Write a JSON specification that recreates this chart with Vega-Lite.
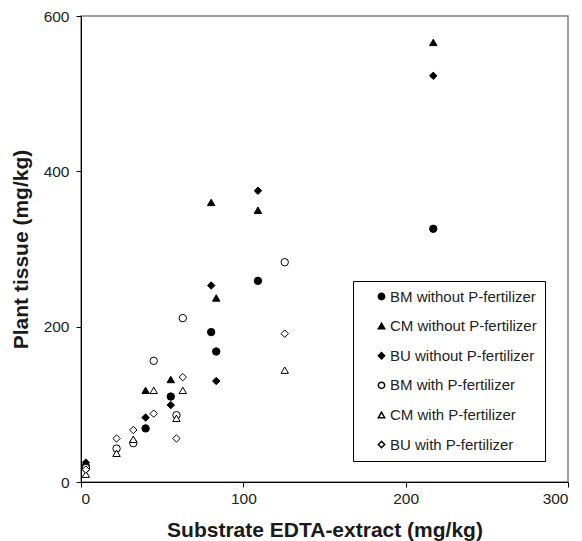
{
  "$schema": "https://vega.github.io/schema/vega-lite/v6.json",
  "width": 487,
  "height": 466,
  "autosize": {"type": "none"},
  "padding": {"left": 81, "top": 16, "right": 14, "bottom": 59},
  "background": "white",
  "config": {
    "font": "Liberation Sans",
    "view": {"stroke": "#808080", "strokeWidth": 1.5},
    "axis": {
      "grid": false,
      "domainColor": "black",
      "tickColor": "black",
      "tickSize": 5,
      "labelFontSize": 15.5,
      "labelColor": "#222",
      "titleFontSize": 21,
      "titleFontWeight": "bold",
      "titleColor": "#1a1a1a"
    }
  },
  "data": {
    "values": [
      {"group": "BM without P-fertilizer", "x": 3, "y": 20},
      {"group": "BM without P-fertilizer", "x": 39.8, "y": 69},
      {"group": "BM without P-fertilizer", "x": 55.3, "y": 110},
      {"group": "BM without P-fertilizer", "x": 80.2, "y": 193},
      {"group": "BM without P-fertilizer", "x": 83.3, "y": 168},
      {"group": "BM without P-fertilizer", "x": 109, "y": 259},
      {"group": "BM without P-fertilizer", "x": 217, "y": 326},
      {"group": "CM without P-fertilizer", "x": 3, "y": 22},
      {"group": "CM without P-fertilizer", "x": 39.8, "y": 118},
      {"group": "CM without P-fertilizer", "x": 55.3, "y": 132},
      {"group": "CM without P-fertilizer", "x": 80.2, "y": 360},
      {"group": "CM without P-fertilizer", "x": 83.3, "y": 237},
      {"group": "CM without P-fertilizer", "x": 109, "y": 350},
      {"group": "CM without P-fertilizer", "x": 217, "y": 566},
      {"group": "BU without P-fertilizer", "x": 3, "y": 25},
      {"group": "BU without P-fertilizer", "x": 39.8, "y": 83},
      {"group": "BU without P-fertilizer", "x": 55.3, "y": 99},
      {"group": "BU without P-fertilizer", "x": 80.2, "y": 253},
      {"group": "BU without P-fertilizer", "x": 83.3, "y": 130},
      {"group": "BU without P-fertilizer", "x": 109, "y": 375},
      {"group": "BU without P-fertilizer", "x": 217, "y": 523},
      {"group": "BM with P-fertilizer", "x": 3, "y": 18},
      {"group": "BM with P-fertilizer", "x": 21.9, "y": 43},
      {"group": "BM with P-fertilizer", "x": 32.2, "y": 50},
      {"group": "BM with P-fertilizer", "x": 44.8, "y": 156},
      {"group": "BM with P-fertilizer", "x": 58.8, "y": 86},
      {"group": "BM with P-fertilizer", "x": 62.7, "y": 211},
      {"group": "BM with P-fertilizer", "x": 125.5, "y": 283},
      {"group": "CM with P-fertilizer", "x": 3, "y": 10},
      {"group": "CM with P-fertilizer", "x": 21.9, "y": 37},
      {"group": "CM with P-fertilizer", "x": 32.2, "y": 55},
      {"group": "CM with P-fertilizer", "x": 44.8, "y": 118},
      {"group": "CM with P-fertilizer", "x": 58.8, "y": 82},
      {"group": "CM with P-fertilizer", "x": 62.7, "y": 118},
      {"group": "CM with P-fertilizer", "x": 125.5, "y": 144},
      {"group": "BU with P-fertilizer", "x": 3, "y": 16},
      {"group": "BU with P-fertilizer", "x": 21.9, "y": 56},
      {"group": "BU with P-fertilizer", "x": 32.2, "y": 67},
      {"group": "BU with P-fertilizer", "x": 44.8, "y": 88},
      {"group": "BU with P-fertilizer", "x": 58.8, "y": 56},
      {"group": "BU with P-fertilizer", "x": 62.7, "y": 135},
      {"group": "BU with P-fertilizer", "x": 125.5, "y": 191}
    ]
  },
  "mark": {"type": "point", "strokeWidth": 1, "size": 55, "opacity": 1},
  "encoding": {
    "x": {
      "field": "x", "type": "quantitative",
      "scale": {"domain": [0, 300], "nice": false},
      "axis": {"values": [0, 100, 200, 300], "title": "Substrate EDTA-extract (mg/kg)", "titlePadding": 13, "labelPadding": 4}
    },
    "y": {
      "field": "y", "type": "quantitative",
      "scale": {"domain": [0, 600], "nice": false},
      "axis": {"values": [0, 200, 400, 600], "title": "Plant tissue (mg/kg)", "titlePadding": 12, "labelPadding": 7}
    },
    "stroke": {"value": "black"},
    "shape": {
      "field": "group", "type": "nominal",
      "scale": {
        "domain": ["BM without P-fertilizer", "CM without P-fertilizer", "BU without P-fertilizer", "BM with P-fertilizer", "CM with P-fertilizer", "BU with P-fertilizer"],
        "range": ["circle", "triangle-up", "diamond", "circle", "triangle-up", "diamond"]
      },
      "legend": {
        "title": null,
        "orient": "none",
        "legendX": 272,
        "legendY": 265,
        "strokeColor": "black",
        "fillColor": "white",
        "padding": 8,
        "rowPadding": 13.6,
        "labelFontSize": 15,
        "labelColor": "#222",
        "symbolSize": 40,
        "symbolOffset": 13,
        "labelOffset": 1,
        "encode": {"symbols": {"update": {"stroke": {"value": "black"}, "strokeWidth": {"value": 1}}}}
      }
    },
    "fill": {
      "field": "group", "type": "nominal",
      "scale": {
        "domain": ["BM without P-fertilizer", "CM without P-fertilizer", "BU without P-fertilizer", "BM with P-fertilizer", "CM with P-fertilizer", "BU with P-fertilizer"],
        "range": ["black", "black", "black", "white", "white", "white"]
      },
      "legend": null
    }
  }
}
